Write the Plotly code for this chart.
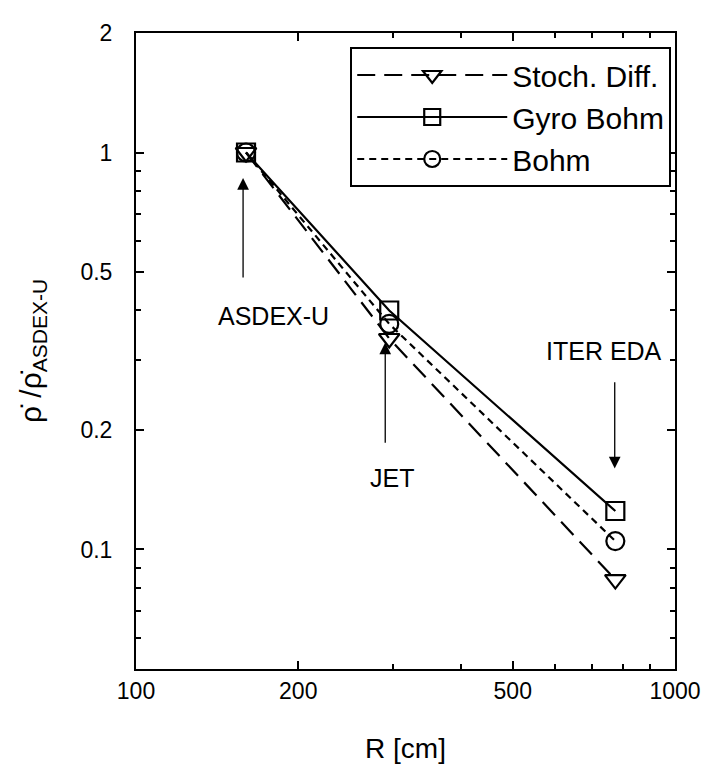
import plotly.graph_objects as go
import math

# ---- data ----
R_cm = [160, 295, 775]
machines = ["ASDEX-U", "JET", "ITER EDA"]
stoch_diff = [1.0, 0.34, 0.084]
gyro_bohm = [1.0, 0.40, 0.125]
bohm = [1.0, 0.37, 0.105]

x_ticks = [100, 200, 500, 1000]
x_minor = [300, 400, 600, 700, 800, 900]
y_ticks = [0.1, 0.2, 0.5, 1, 2]
y_tick_text = ["0.1", "0.2", "0.5", "1", "2"]
y_minor = [0.06, 0.07, 0.08, 0.09, 0.3, 0.4, 0.6, 0.7, 0.8, 0.9]

# annotation arrows (tail -> tip, in data units) and label positions
arrow_x = [158, 290, 773]
arrow_tail_y = [0.48, 0.184, 0.266]
arrow_tip_y = [0.862, 0.332, 0.160]
label_x = [180, 299, 737]
label_y = [0.387, 0.151, 0.317]

FONT = "Liberation Sans, Arial, sans-serif"

fig = go.Figure()
series = [
    ("Stoch. Diff.", stoch_diff, "triangle-down-open", (18, 9)),
    ("Gyro Bohm", gyro_bohm, "square-open", None),
    ("Bohm", bohm, "circle-open", (7, 5)),
]
for name, vals, sym, dash in series:
    d = "solid" if dash is None else f"{dash[0]}px,{dash[1]}px"
    fig.add_trace(go.Scatter(
        x=R_cm, y=vals, name=name, mode="lines+markers",
        line=dict(color="black", width=2.2, dash=d),
        marker=dict(symbol=sym, size=18, color="black", line=dict(width=2.2, color="black")),
    ))

for ax_, tail, tip, lx, ly, txt in zip(arrow_x, arrow_tail_y, arrow_tip_y, label_x, label_y, machines):
    fig.add_annotation(
        x=math.log10(ax_), y=math.log10(tip), ax=math.log10(ax_), ay=math.log10(tail),
        xref="x", yref="y", axref="x", ayref="y", text="", showarrow=True,
        arrowhead=2, arrowsize=1.8, arrowwidth=1.3, arrowcolor="black",
    )
    fig.add_annotation(
        x=math.log10(lx), y=math.log10(ly), xref="x", yref="y", text=txt,
        showarrow=False, font=dict(family=FONT, size=25, color="black"),
    )

axis_common = dict(
    type="log", showline=True, linecolor="black", linewidth=2, mirror="ticks",
    ticks="inside", ticklen=8, tickwidth=1.5, tickcolor="black", showgrid=False,
    zeroline=False, tickfont=dict(family=FONT, size=23, color="black"),
)
fig.update_xaxes(
    **axis_common, range=[2, 3], tickvals=x_ticks, ticktext=[str(v) for v in x_ticks],
    minor=dict(tickvals=x_minor, ticks="inside", ticklen=5, tickwidth=1.5, tickcolor="black"),
    title=dict(text="R [cm]", font=dict(family=FONT, size=28, color="black"), standoff=36),
)
fig.update_yaxes(
    **axis_common, range=[math.log10(0.05), math.log10(2)], tickvals=y_ticks, ticktext=y_tick_text,
    ticklabelstandoff=17,
    minor=dict(tickvals=y_minor, ticks="inside", ticklen=5, tickwidth=1.5, tickcolor="black"),
    title=dict(text="ρ̇ /ρ̇<sub>ASDEX-U</sub>", font=dict(family=FONT, size=30, color="black"), standoff=30),
)

# the page body adds an 8px margin, so the figure is sized 8px smaller
fig.update_layout(
    width=705, height=766,
    margin=dict(l=128, r=33, t=12, b=105),
    paper_bgcolor="white", plot_bgcolor="white",
    legend=dict(
        x=0.993, y=0.978, xanchor="right", yanchor="top",
        bordercolor="black", borderwidth=2, bgcolor="white",
        font=dict(family=FONT, size=30, color="black"),
        itemwidth=150, tracegroupgap=0,
    ),
    showlegend=True,
)

fig.write_html("out.html")
